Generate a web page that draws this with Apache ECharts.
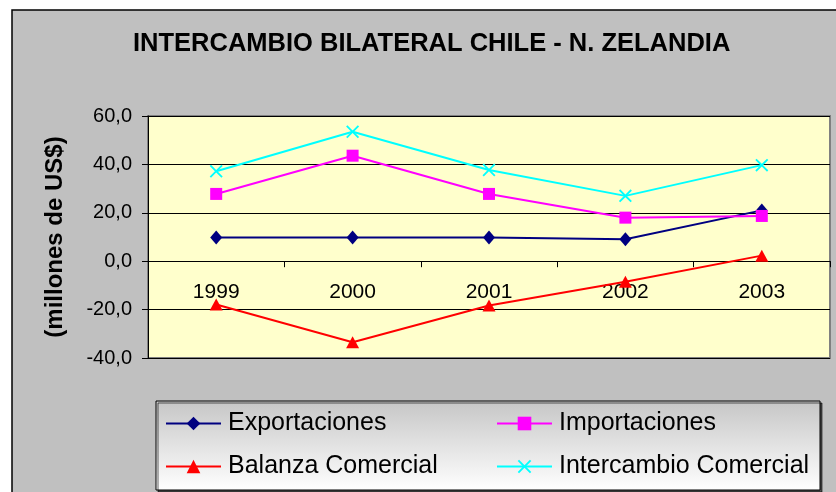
<!DOCTYPE html>
<html>
<head>
<meta charset="utf-8">
<script src="https://cdn.jsdelivr.net/npm/echarts@6/dist/echarts.min.js"></script>
<style>
html,body{margin:0;padding:0;background:#fff;}
#c{width:836px;height:492px;}
</style>
</head>
<body>
<div id="c"></div>
<script>
var categories = ['1999', '2000', '2001', '2002', '2003'];
var exportaciones = [9.8, 9.8, 9.8, 9.1, 21.0];
var importaciones = [27.8, 43.6, 27.8, 18.0, 18.7];
var balanza = [-17.9, -33.5, -18.3, -8.5, 2.3];
var intercambio = [37.2, 53.5, 37.7, 27.0, 39.7];
var seriesNames = ['Exportaciones', 'Importaciones', 'Balanza Comercial', 'Intercambio Comercial'];
var titleText = 'INTERCAMBIO BILATERAL CHILE - N. ZELANDIA';
var yAxisName = '(millones de US$)';
var yMin = -40, yMax = 60, yStep = 20;

var FONT = '"Liberation Sans", Arial, sans-serif';
var xMark = 'path://M0,1L1,0L5,4L9,0L10,1L6,5L10,9L9,10L5,6L1,10L0,9L4,5Z';

var gridTop = 116, gridBottom = 134, chartH = 492;
var plotH = chartH - gridTop - gridBottom;
// place the category axis at the value zero (axis offset, computed from the value range)
var zeroOffset = -plotH * (0 - yMin) / (yMax - yMin);

var chart = echarts.init(document.getElementById('c'), null, {renderer: 'canvas'});

function legendAt(name, left, top) {
  return {
    data: [name], left: left, top: top, padding: 0,
    itemWidth: 55, itemHeight: 17, itemGap: 0,
    textStyle: {fontFamily: FONT, fontSize: 25, color: '#000', padding: [0, 0, 0, 2]},
    selectedMode: false
  };
}

var option = {
  backgroundColor: '#ffffff',
  animation: false,
  graphic: [
    {type: 'rect', z: -10, shape: {x: 12, y: 10, width: 840, height: 500},
     style: {fill: '#c0c0c0', stroke: '#000', lineWidth: 1.5}},
    {type: 'rect', z: 1, shape: {x: 156, y: 401, width: 664, height: 89},
     style: {
       fill: new echarts.graphic.LinearGradient(0, 0, 0, 1, [
         {offset: 0, color: '#c6c6c6'}, {offset: 1, color: '#ffffff'}]),
       stroke: '#000', lineWidth: 1,
       shadowColor: 'rgba(0,0,0,0.6)', shadowOffsetX: 2, shadowOffsetY: 2, shadowBlur: 0
     }}
  ],
  title: {
    text: titleText, left: 133, top: 31, padding: 0,
    textStyle: {fontFamily: FONT, fontSize: 25.5, fontWeight: 'bold', color: '#000'}
  },
  legend: [
    legendAt(seriesNames[0], 165, 411),
    legendAt(seriesNames[1], 496, 411),
    legendAt(seriesNames[2], 165, 454),
    legendAt(seriesNames[3], 496, 454)
  ],
  grid: {
    left: 148, top: gridTop, right: 6, bottom: gridBottom,
    show: true, backgroundColor: '#ffffcc', borderColor: '#808080', borderWidth: 2
  },
  xAxis: {
    type: 'category', data: categories, boundaryGap: true,
    position: 'bottom', offset: zeroOffset,
    axisLine: {onZero: false, lineStyle: {color: '#000', width: 1}},
    axisTick: {show: true, interval: 0, length: 6, lineStyle: {color: '#000'}},
    axisLabel: {margin: 21, fontFamily: FONT, fontSize: 21, color: '#000', interval: 0},
    splitLine: {show: false}
  },
  yAxis: {
    type: 'value', min: yMin, max: yMax, interval: yStep,
    name: yAxisName, nameLocation: 'middle', nameRotate: 90, nameGap: 81,
    nameTextStyle: {fontFamily: FONT, fontSize: 24, fontWeight: 'bold', color: '#000'},
    axisLine: {show: true, lineStyle: {color: '#000', width: 1}},
    axisTick: {show: true, length: 6, lineStyle: {color: '#000'}},
    axisLabel: {margin: 16, fontFamily: FONT, fontSize: 20, color: '#000',
      formatter: function (v) { return v.toFixed(1).replace('.', ','); }},
    splitLine: {show: true, lineStyle: {color: '#000', width: 1}}
  },
  series: [
    {name: seriesNames[0], type: 'line', data: exportaciones, symbol: 'diamond', symbolSize: [12, 14],
     color: '#000080', lineStyle: {width: 2, color: '#000080'}, itemStyle: {color: '#000080'}},
    {name: seriesNames[1], type: 'line', data: importaciones, symbol: 'rect', symbolSize: 12,
     color: '#ff00ff', lineStyle: {width: 2, color: '#ff00ff'}, itemStyle: {color: '#ff00ff'}},
    {name: seriesNames[2], type: 'line', data: balanza, symbol: 'triangle', symbolSize: [13, 12],
     color: '#ff0000', lineStyle: {width: 2, color: '#ff0000'}, itemStyle: {color: '#ff0000'}},
    {name: seriesNames[3], type: 'line', data: intercambio, symbol: xMark, symbolSize: 13,
     color: '#00ffff', lineStyle: {width: 2, color: '#00ffff'}, itemStyle: {color: '#00ffff'}}
  ]
};
chart.setOption(option);
</script>
</body>
</html>
